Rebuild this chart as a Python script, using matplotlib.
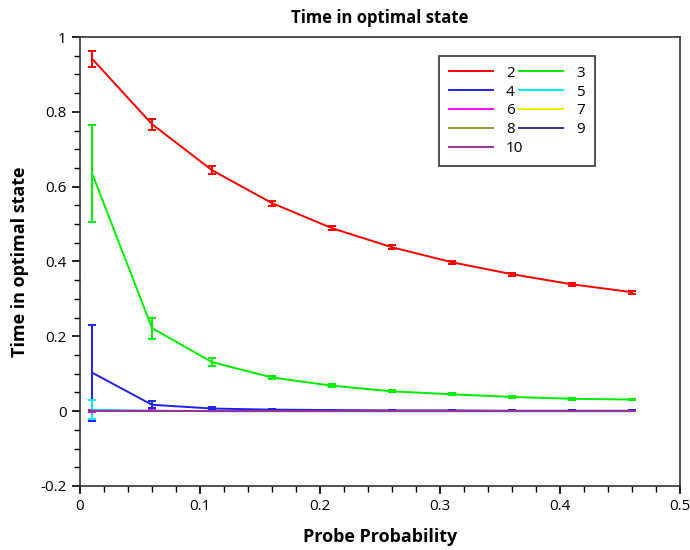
import matplotlib
matplotlib.use("Agg")
import matplotlib.pyplot as plt
from matplotlib.ticker import MultipleLocator
import numpy as np

plt.rcParams['font.family'] = ['Open Sans', 'DejaVu Sans']

# probe probability values
probe = [0.01, 0.06, 0.11, 0.16, 0.21, 0.26, 0.31, 0.36, 0.41, 0.46]

labels = ["2", "3", "4", "5", "6", "7", "8", "9", "10"]
colors = ["#ff0000", "#00ee00", "#2020ee", "#00eeee", "#ff00ff",
          "#eeee00", "#999933", "#333399", "#993399"]

mean_2 = [0.942, 0.767, 0.644, 0.556, 0.489, 0.438, 0.398, 0.366, 0.339, 0.318]
err_2 = [0.021, 0.015, 0.011, 0.007, 0.006, 0.005, 0.004, 0.004, 0.004, 0.004]
mean_3 = [0.636, 0.222, 0.131, 0.090, 0.068, 0.053, 0.045, 0.038, 0.033, 0.031]
err_3 = [0.130, 0.028, 0.011, 0.005, 0.004, 0.003, 0.003, 0.002, 0.002, 0.002]
mean_4 = [0.103, 0.017, 0.007, 0.004, 0.003, 0.002, 0.002, 0.001, 0.001, 0.001]
err_4 = [0.128, 0.009, 0.003, 0.002, 0.001, 0.001, 0.001, 0.001, 0.001, 0.001]
mean_5 = [0.004, 0.001, 0.0, 0.0, 0.0, 0.0, 0.0, 0.0, 0.0, 0.0]
err_5 = [0.025, 0.001, 0.0, 0.0, 0.0, 0.0, 0.0, 0.0, 0.0, 0.0]
mean_6 = [0.001, 0.001, 0.0, 0.0, 0.0, 0.0, 0.0, 0.0, 0.0, 0.0]
err_6 = [0.002, 0.001, 0.0, 0.0, 0.0, 0.0, 0.0, 0.0, 0.0, 0.0]
mean_7 = [0.0] * 10
err_7 = [0.0] * 10
mean_8 = [0.0] * 10
err_8 = [0.0] * 10
mean_9 = [0.0] * 10
err_9 = [0.0] * 10
mean_10 = [0.0] * 10
err_10 = [0.0] * 10

means = [mean_2, mean_3, mean_4, mean_5, mean_6, mean_7, mean_8, mean_9, mean_10]
errs = [err_2, err_3, err_4, err_5, err_6, err_7, err_8, err_9, err_10]

fig = plt.figure(figsize=(6.9, 5.5), dpi=100)
ax = fig.add_axes([0.116, 0.1164, 0.8695, 0.8163])

handles = []
for lab, col, m, e in zip(labels, colors, means, errs):
    ax.errorbar(probe, m, yerr=e, color=col, linewidth=1.4,
                elinewidth=1.4, capsize=3, capthick=1.4)
    h, = ax.plot([], [], color=col, linewidth=1.4, label=lab)
    handles.append(h)

ax.set_xlim(0, 0.5)
ax.set_ylim(-0.2, 1.0)
ax.xaxis.set_major_locator(MultipleLocator(0.1))
ax.xaxis.set_minor_locator(MultipleLocator(0.02))
ax.yaxis.set_major_locator(MultipleLocator(0.2))
ax.yaxis.set_minor_locator(MultipleLocator(0.05))
ax.set_xticks([0, 0.1, 0.2, 0.3, 0.4, 0.5], ["0", "0.1", "0.2", "0.3", "0.4", "0.5"])
ax.set_yticks([-0.2, 0, 0.2, 0.4, 0.6, 0.8, 1.0],
              ["-0.2", "0", "0.2", "0.4", "0.6", "0.8", "1"])
ax.tick_params(which='major', direction='out', length=6, width=1.2, labelsize=11)
ax.tick_params(which='minor', direction='out', length=4, width=1.0)
ax.tick_params(top=False, right=False)
for sp in ax.spines.values():
    sp.set_linewidth(1.2)
    sp.set_color("#333333")

ax.set_title("Time in optimal state", fontsize=12, fontweight="bold", pad=10)
ax.set_xlabel("Probe Probability", fontsize=13, fontweight="bold", labelpad=10)
ax.set_ylabel("Time in optimal state", fontsize=13, fontweight="bold", labelpad=8)

# column-major legend order so rows read 2/3, 4/5, ...
order = [0, 2, 4, 6, 8, 1, 3, 5, 7]
leg = ax.legend([handles[i] for i in order], [labels[i] for i in order],
                ncol=2, loc="upper left", bbox_to_anchor=(0.598, 0.958),
                borderaxespad=0, fontsize=11, fancybox=False, framealpha=1,
                edgecolor="#333333", handlelength=2.9, handletextpad=0.85,
                columnspacing=-0.3, labelspacing=0.25, borderpad=0.65)
leg.get_frame().set_linewidth(1.2)

fig.savefig("out.png", dpi=100)
